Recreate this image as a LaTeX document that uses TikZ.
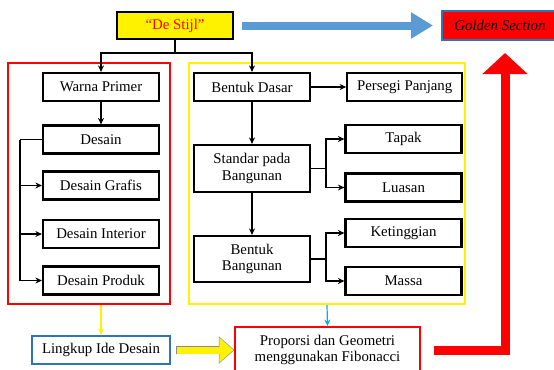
\documentclass[tikz,border=0pt]{standalone}
\usepackage{fontspec}
\setmainfont{Liberation Serif}
\usetikzlibrary{arrows.meta,positioning}
\definecolor{steelblue}{RGB}{91,155,213}
\definecolor{boxblue}{RGB}{46,117,182}
\definecolor{lineblue}{RGB}{0,176,240}

\begin{document}
\begin{tikzpicture}[x=1bp,y=-1bp,>={Stealth[length=6.5bp,width=6bp]},
                    font=\fontsize{14.9}{16.8}\selectfont]
  \tikzstyle{box}=[draw=black,line width=2.2bp,minimum width=116bp,
                   minimum height=28bp,inner sep=1bp,align=center]
  \tikzstyle{frame}=[line width=2bp,inner sep=0pt]
  \tikzstyle{wire}=[line width=1.3bp]

  \useasboundingbox (0,0) rectangle (554,369);

  % groups
  \node[frame,draw=red,minimum width=162bp,minimum height=241bp] (LG) at (89,183.5) {};
  \node[frame,draw=yellow,minimum width=276bp,minimum height=241bp] (RG) at (327,183.5) {};

  \node[box,fill=yellow,text=red,minimum height=27bp] (S) at (175,25.5) {``De Stijl''};
  \node[box,draw=boxblue,line width=2bp,fill=red,minimum height=29bp,
        minimum width=116bp] (G) at (500,25.5) {\itshape Golden Section};

  % left column
  \node[box] (WP) at (101,87) {Warna Primer};
  \node[box] (D)  at (101,139.5) {Desain};
  \node[box] (DG) at (101,185.5) {Desain Grafis};
  \node[box] (DI) at (101,234) {Desain Interior};
  \node[box] (DP) at (101,280.5) {Desain Produk};

  % right column
  \node[box] (BD) at (252,87) {Bentuk Dasar};
  \node[box,minimum width=115bp] (PP) [right=35bp of BD] {Persegi Panjang};
  \node[box,minimum height=47bp] (SB) at (252,168.5) {Standar pada\\Bangunan};
  \node[box,minimum height=46bp] (BB) at (252,259) {Bentuk\\Bangunan};
  \node[box] (T) at (403.5,139) {Tapak};
  \node[box] (L) at (403.5,187.5) {Luasan};
  \node[box] (K) at (403.5,233) {Ketinggian};
  \node[box] (M) at (403.5,281) {Massa};

  % bottom row
  \node[box,draw=boxblue,line width=2bp,minimum width=138bp] (LI) at (101,350) {Lingkup Ide Desain};
  \node[box,draw=red,line width=2bp,minimum width=185bp,minimum height=46bp] (PG) at (327.5,350)
        {Proporsi dan Geometri\\menggunakan Fibonacci};

  % connectors
  \draw[wire] (S.south) -- ++(0,13) coordinate (top);
  \draw[wire,->] (top) -| (WP.north);
  \draw[wire,->] (top) -| (BD.north);
  \draw[wire,->] (WP) -- (D);
  \draw[wire] (D.west) -- ++(-22,0) coordinate (bus);
  \foreach \n in {DG,DI,DP}
    \draw[wire,->] (bus) |- (\n.west);
  \draw[wire,->] (BD) -- (PP);
  \draw[wire,->] (BD) -- (SB);
  \draw[wire,->] (SB) -- (BB);
  \draw[wire] (SB.east) -- ++(15,0) coordinate (f1);
  \foreach \n in {T,L}
    \draw[wire,->] (f1) |- (\n.west);
  \draw[wire] (BB.east) -- ++(15,0) coordinate (f2);
  \foreach \n in {K,M}
    \draw[wire,->] (f2) |- (\n.west);

  \draw[line width=1.2bp,yellow,->] (LG.south -| LI.north) -- (LI.north);
  \draw[line width=1.2bp,lineblue,->] (RG.south) -- (PG.north);

  % block arrows
  \draw[steelblue,line width=8bp,-{Triangle[length=22bp,width=25bp]},
        shorten <=8bp,shorten >=8bp] (S) -- (G);
  \draw[black!45,line width=8.4bp,-{Triangle[length=15.6bp,width=26.4bp]},
        shorten <=4.8bp,shorten >=-0.4bp] (LI) -- (PG);
  \draw[yellow,line width=7bp,-{Triangle[length=14bp,width=24bp]},
        shorten <=5.5bp,shorten >=0.6bp] (LI) -- (PG);
  \draw[red,line width=9bp,-{Triangle[length=21bp,width=44bp]},
        shorten <=13bp,shorten >=12bp] (PG.east) -| ([xshift=5bp]G.south);
\end{tikzpicture}
\end{document}
